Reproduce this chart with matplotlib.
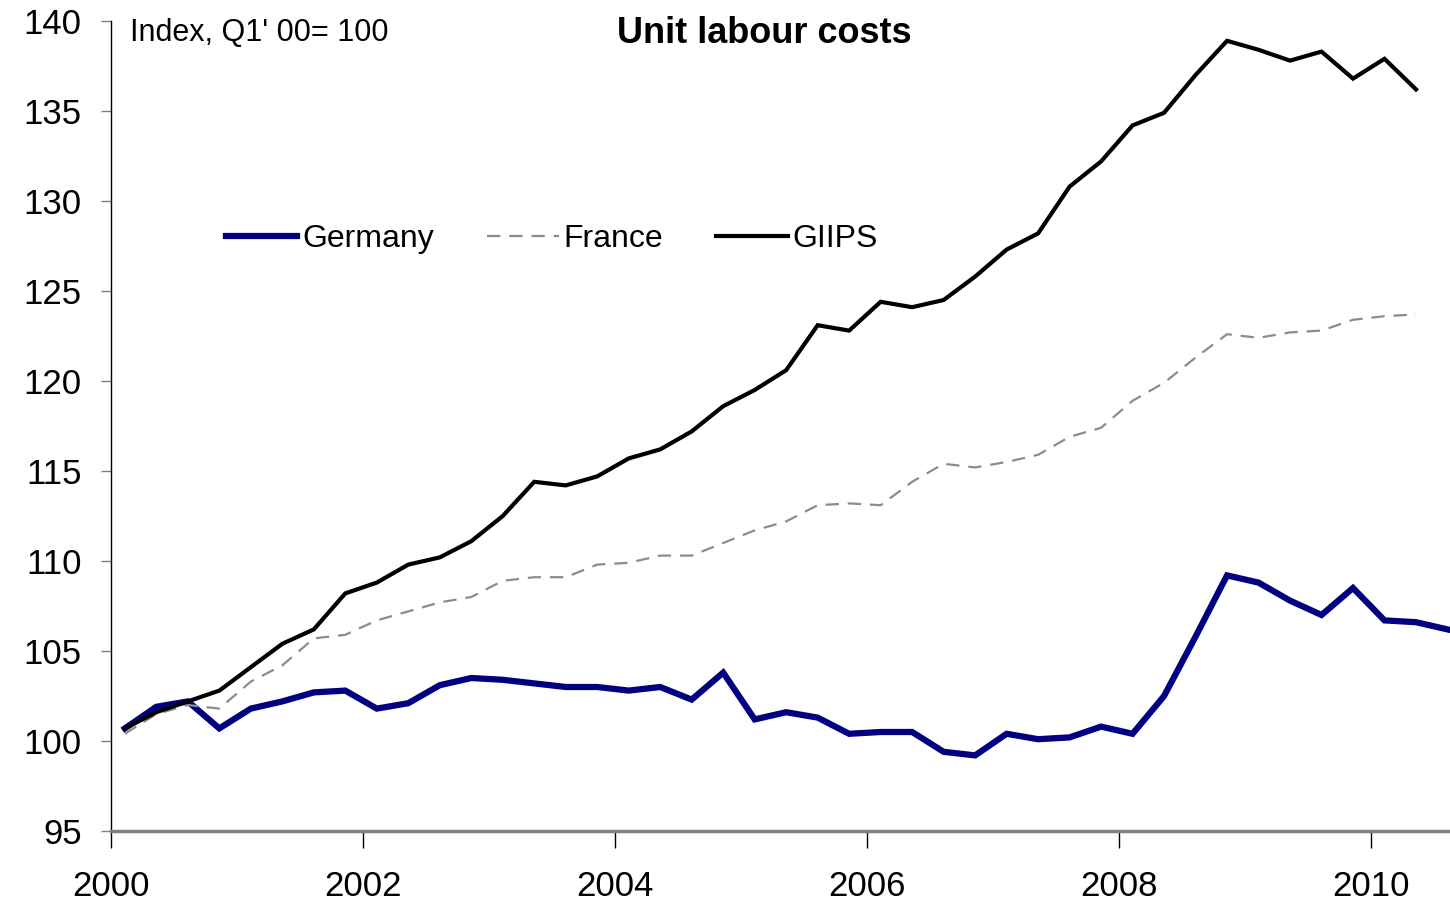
#!/usr/bin/env python3
# -*- coding=utf-8 -*-

import numpy as np
import matplotlib
matplotlib.use("Agg")
from matplotlib import pyplot as plt

# quarterly index, Q1 2000 .. Q3 2010 (Q1'00 = 100)
start_year = 2000
germany = [100.7, 101.9, 102.2, 100.7, 101.8, 102.2, 102.7, 102.8,
           101.8, 102.1, 103.1, 103.5, 103.4, 103.2, 103.0, 103.0,
           102.8, 103.0, 102.3, 103.8, 101.2, 101.6, 101.3, 100.4,
           100.5, 100.5, 99.4, 99.2, 100.4, 100.1, 100.2, 100.8,
           100.4, 102.5, 105.8, 109.2, 108.8, 107.8, 107.0, 108.5,
           106.7, 106.6, 106.2]
france = [100.4, 101.5, 102.0, 101.8, 103.3, 104.2, 105.7, 105.9,
          106.7, 107.2, 107.7, 108.0, 108.9, 109.1, 109.1, 109.8,
          109.9, 110.3, 110.3, 111.0, 111.7, 112.2, 113.1, 113.2,
          113.1, 114.4, 115.4, 115.2, 115.5, 115.9, 116.9, 117.4,
          118.9, 119.9, 121.3, 122.6, 122.4, 122.7, 122.8, 123.4,
          123.6, 123.7]
giips = [100.7, 101.6, 102.2, 102.8, 104.1, 105.4, 106.2, 108.2,
         108.8, 109.8, 110.2, 111.1, 112.5, 114.4, 114.2, 114.7,
         115.7, 116.2, 117.2, 118.6, 119.5, 120.6, 123.1, 122.8,
         124.4, 124.1, 124.5, 125.8, 127.3, 128.2, 130.8, 132.2,
         134.2, 134.9, 137.0, 138.9, 138.4, 137.8, 138.3, 136.8,
         137.9, 136.2]
year_ticks = [2000, 2002, 2004, 2006, 2008, 2010]
y_ticks = [95, 100, 105, 110, 115, 120, 125, 130, 135, 140]


def qpos(n):
    # position of each quarter on a year axis
    return start_year + 0.11 + np.arange(n) / 4.0


def main():
    plt.rcParams['font.family'] = ['Liberation Sans', 'DejaVu Sans']

    fig = plt.figure(figsize=(14.5, 9.02), dpi=100)
    ax = fig.add_axes([111 / 1450, 71 / 902, 1339 / 1450, 810 / 902])

    ax.plot(qpos(len(germany)), germany, color='#000080', lw=4.5,
            label='Germany', solid_joinstyle='miter')
    ax.plot(qpos(len(france)), france, color='#8c8c8c', lw=1.6,
            dashes=(6, 4), label='France')
    ax.plot(qpos(len(giips)), giips, color='black', lw=3.0,
            label='GIIPS', solid_joinstyle='miter')

    ax.set_xlim(2000, 2010.63)
    ax.set_ylim(95, 140)
    ax.set_xticks(year_ticks)
    ax.set_yticks(y_ticks)
    ax.tick_params(axis='y', labelsize=25, length=7, width=1,
                   color='#808080', pad=14)
    ax.tick_params(axis='x', labelsize=25, length=12, width=1,
                   color='black', pad=16)

    for s in ['top', 'right']:
        ax.spines[s].set_visible(False)
    ax.spines['left'].set_color('black')
    ax.spines['left'].set_linewidth(1)
    ax.spines['bottom'].set_color('#808080')
    ax.spines['bottom'].set_linewidth(2.5)

    ax.text(0.014, 0.985, "Index, Q1' 00= 100", transform=ax.transAxes,
            fontsize=22, ha='left', va='center')
    ax.text(0.488, 0.985, 'Unit labour costs', transform=ax.transAxes,
            fontsize=26, fontweight='bold', ha='center', va='center')

    ax.legend(loc='center left', bbox_to_anchor=(0.076, 0.731), ncol=3,
              frameon=False, fontsize=23, handlelength=2.25,
              handletextpad=0.15, columnspacing=1.65, borderaxespad=0)

    fig.savefig('out.png', dpi=100)


if "__main__" == __name__:
    main()
